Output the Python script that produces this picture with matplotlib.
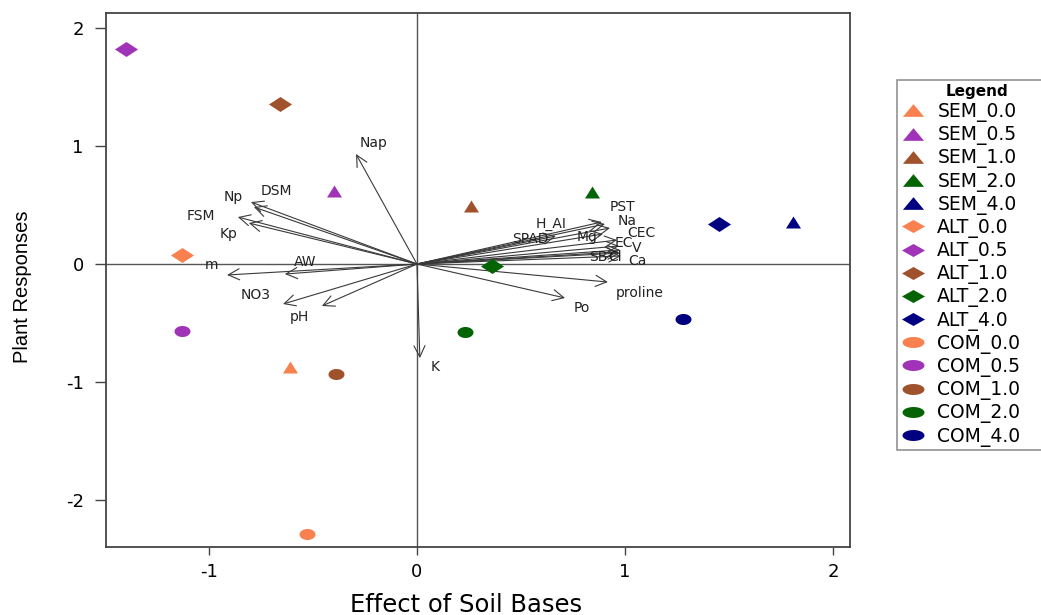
import matplotlib
matplotlib.use("Agg")
import matplotlib.pyplot as plt
from matplotlib.path import Path
from matplotlib.lines import Line2D
import numpy as np

plt.rcParams['font.family'] = ['DejaVu Sans']

# ---- sample scores ----
sample_names = ["SEM_0.0", "SEM_0.5", "SEM_1.0", "SEM_2.0", "SEM_4.0",
                "ALT_0.0", "ALT_0.5", "ALT_1.0", "ALT_2.0", "ALT_4.0",
                "COM_0.0", "COM_0.5", "COM_1.0", "COM_2.0", "COM_4.0"]
sample_x = [-0.61, -0.40, 0.26, 0.84, 1.81,
            -1.13, -1.40, -0.66, 0.36, 1.45,
            -0.53, -1.13, -0.39, 0.23, 1.28]
sample_y = [-0.87, 0.62, 0.49, 0.61, 0.36,
            0.08, 1.82, 1.36, -0.02, 0.34,
            -2.29, -0.57, -0.93, -0.58, -0.47]

# ---- variable loadings (arrow tips) ----
var_names = ["Nap", "Np", "DSM", "FSM", "Kp", "m", "AW", "NO3", "pH", "K",
             "Po", "proline", "H_AI", "SPAD", "PST", "Na", "Mg", "CEC",
             "EC", "V", "SB", "Cl", "Ca"]
var_x = [-0.293, -0.798, -0.784, -0.861, -0.808, -0.913, -0.635, -0.644, -0.457, 0.014,
         0.712, 0.918, 0.889, 0.668, 0.904, 0.928, 0.894, 0.962,
         0.971, 0.976, 0.966, 0.976, 0.981]
var_y = [0.932, 0.525, 0.483, 0.398, 0.347, -0.093, -0.085, -0.339, -0.356, -0.797,
         -0.288, -0.153, 0.356, 0.237, 0.339, 0.305, 0.254, 0.203,
         0.153, 0.119, 0.102, 0.093, 0.068]
# label positions for the variables
lab_x = [-0.207, -0.885, -0.678, -1.038, -0.904, -0.99, -0.538, -0.774, -0.563, 0.087,
         0.793, 1.072, 0.644, 0.543, 0.986, 1.012, 0.817, 1.077,
         0.995, 1.058, 0.870, 0.952, 1.058]
lab_y = [1.025, 0.568, 0.619, 0.407, 0.254, -0.01, 0.017, -0.263, -0.449, -0.873,
         -0.373, -0.246, 0.339, 0.212, 0.48, 0.365, 0.229, 0.263,
         0.178, 0.136, 0.059, 0.059, 0.025]

level_colors = {"0.0": "#F9804F", "0.5": "#A033B8", "1.0": "#A0522D",
                "2.0": "#046404", "4.0": "#000080"}


def tri_path(h):
    return Path([(-1, -h / 2), (1, -h / 2), (0, h / 2), (-1, -h / 2)],
                [Path.MOVETO, Path.LINETO, Path.LINETO, Path.CLOSEPOLY])


def dia_path(h):
    return Path([(-1, 0), (0, h / 2), (1, 0), (0, -h / 2), (-1, 0)],
                [Path.MOVETO, Path.LINETO, Path.LINETO, Path.LINETO, Path.CLOSEPOLY])


def ell_path(h):
    th = np.linspace(0, 2 * np.pi, 48)
    return Path(np.column_stack([np.cos(th), h / 2 * np.sin(th)]))


plot_shape = {"SEM": (tri_path(1.6), 10.8), "ALT": (dia_path(1.3), 16.6),
              "COM": (ell_path(1.38), 11.5)}
leg_shape = {"SEM": (tri_path(1.2), 15.2), "ALT": (dia_path(1.13), 16.6),
             "COM": (ell_path(1.0), 15.8)}

fig = plt.figure(figsize=(10.41, 6.15), dpi=100)
ax = fig.add_axes([106 / 1041, 68 / 615, 744 / 1041, 534 / 615])

ax.axhline(0, color="#555555", lw=1.0, zorder=1)
ax.axvline(0, color="#555555", lw=1.0, zorder=1)

for name, x, y in zip(sample_names, sample_x, sample_y):
    grp, lvl = name.split("_")
    m, s = plot_shape[grp]
    ax.plot([x], [y], marker=m, markersize=s, color=level_colors[lvl],
            markeredgewidth=0, linestyle="none", zorder=3)

for name, x, y, lx, ly in zip(var_names, var_x, var_y, lab_x, lab_y):
    ax.annotate("", xy=(x, y), xytext=(0, 0),
                arrowprops=dict(arrowstyle="->", color="#3a3a3a", lw=0.8,
                                mutation_scale=20, shrinkA=0, shrinkB=0),
                zorder=2)
    ax.text(lx, ly, name, fontsize=10, color="#222222", ha="center",
            va="center", zorder=4)

ax.set_xlim(-1.495, 2.082)
ax.set_ylim(-2.398, 2.127)
ax.set_xticks([-1, 0, 1, 2])
ax.set_xticklabels(["-1", "0", "1", "2"])
ax.set_yticks([-2, -1, 0, 1, 2])
ax.set_yticklabels(["-2", "-1", "0", "1", "2"])
ax.tick_params(axis="x", direction="out", length=5.8, width=1, labelsize=13,
               pad=5.5, color="#444444")
ax.tick_params(axis="y", direction="out", length=8, width=1, labelsize=13,
               pad=8, color="#444444")
for sp in ax.spines.values():
    sp.set_color("#444444")
    sp.set_linewidth(1.3)

ax.set_xlabel("Effect of Soil Bases", fontsize=17.5)
ax.xaxis.set_label_coords(0.484, -0.086)
ax.set_ylabel("Plant Responses", fontsize=14.5, family="Liberation Sans")
ax.yaxis.set_label_coords(-0.099, 0.488)

handles = []
for name in sample_names:
    grp, lvl = name.split("_")
    m, s = leg_shape[grp]
    handles.append(Line2D([], [], marker=m, markersize=s,
                          color=level_colors[lvl], markeredgewidth=0,
                          linestyle="none", label=name))
leg = fig.legend(handles=handles, loc="upper left",
                 bbox_to_anchor=(897 / 1041, 1 - 80 / 615, 160 / 1041, 0),
                 mode="expand", borderaxespad=0,
                 title="Legend", fontsize=13.5, title_fontsize=11,
                 frameon=True, fancybox=False, labelspacing=0.17,
                 handletextpad=0.6, handlelength=1.35, borderpad=0.2)
leg.get_frame().set_edgecolor("#777777")
leg.get_frame().set_linewidth(1.2)
leg.get_title().set_fontweight("bold")

fig.savefig("out.png", dpi=100)
